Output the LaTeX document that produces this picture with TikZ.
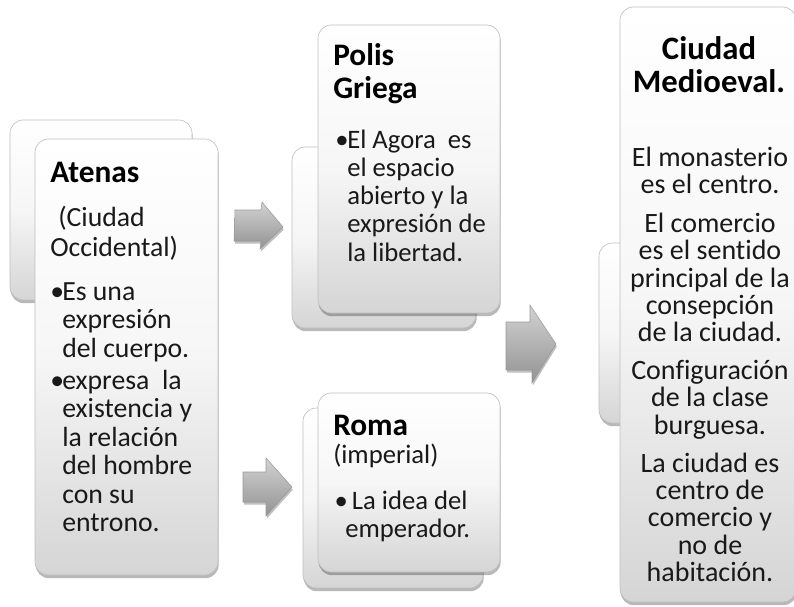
\documentclass[tikz,border=0pt]{standalone}
\usepackage{fontspec}
\setmainfont{Carlito}[Ligatures=NoCommon]
\usetikzlibrary{shadows,fit}
\newcommand\bodyf{\fontsize{20.8}{21.4}\selectfont}
\newcommand\smallbodyf{\fontsize{20}{21.2}\selectfont}
\newcommand\ciuf{\fontsize{21}{20.25}\selectfont}
\newcommand\titlef{\fontsize{23.5}{24.75}\selectfont\bfseries}
\newcommand\ctitlef{\fontsize{24.5}{24.75}\selectfont\bfseries}
\newcommand\bul{\llap{\makebox[9pt][l]{•}}}
\newcommand\lblock[1]{\begin{tabular}[t]{@{}l@{}}#1\end{tabular}}
\newcommand\cblock[1]{\begin{tabular}[t]{@{}c@{}}#1\end{tabular}}
\tikzset{
  cbox/.style={rounded corners=10pt, draw=gray!50, line width=0.5pt,
    top color=white, bottom color=gray!33, middle color=gray!7, inner sep=0pt,
    drop shadow={shadow xshift=0.5pt, shadow yshift=-2.4pt, opacity=0.28, fill=black}},
  arrowst/.style={top color=gray!35, bottom color=gray!85, draw=gray!80, line width=0.4pt,
    line join=miter,
    drop shadow={shadow xshift=0.6pt, shadow yshift=-2pt, opacity=0.25, fill=black}},
  bnode/.style={font=\bodyf, anchor=base west, inner sep=0pt, text=black!90},
  snode/.style={font=\smallbodyf, anchor=base west, inner sep=0pt, text=black!90},
  tnode/.style={font=\titlef, anchor=base west, inner sep=0pt, text=black},
  cnode/.style={font=\ciuf, anchor=base, inner sep=0pt, text=black!90},
  ctitle/.style={font=\ctitlef, anchor=base, inner sep=0pt, text=black}
}
\begin{document}
\begin{tikzpicture}[x=0.75pt,y=-0.75pt]
\useasboundingbox (0,0) rectangle (794,607);
% boxes
\node[cbox, fit={(10,120) (192,300)}] (atB) {};
\node[cbox, fit={(35,139) (218,575)}] (atF) {};
\node[cbox, fit={(292,147) (476,328)}] (poB) {};
\node[cbox, fit={(318,25) (500,313)}] (poF) {};
\node[cbox, fit={(303,408) (483,588)}] (roB) {};
\node[cbox, fit={(318,393) (500,572)}] (roF) {};
\node[cbox, fit={(599,243) (780,423)}] (ciB) {};
\node[cbox, fit={(620,7) (796,602)}] (ciF) {};
% arrows
\path[arrowst] (235,210) -- (261,210) -- (262,202) -- (283,227) -- (260,249) -- (261,241) -- (234,241) -- cycle;
\path[arrowst] (243,472) -- (266,472) -- (266,458) -- (292,487) -- (266,516) -- (266,502) -- (243,502) -- cycle;
\path[arrowst] (506,322) -- (530,322) -- (530,305) -- (556,344) -- (532,383) -- (532,370) -- (506,370) -- cycle;
% Atenas
\node[tnode] (atT) at (50,182) {Atenas};
\node[bnode] (atP1) at (50,226) {\lblock{\hspace*{6pt}(Ciudad\\[1pt]Occidental)}};
\node[bnode] (atP2) at (62,300) {\lblock{\bul Es una\\expresión\\del cuerpo.}};
\node[bnode] (atP3) at (62,389) {\lblock{\bul expresa\ \ la\\existencia y\\la relación\\del hombre\\con su\\entrono.}};
% Polis
\node[tnode] (poT) at (333,65) {\lblock{Polis\\Griega}};
\node[snode] (poP) at (347,148) {\lblock{\bul El Agora\ \ es\\el espacio\\abierto y la\\expresión de\\la libertad.}};
% Roma
\node[tnode] (roT) at (333,435) {Roma};
\node[snode] (roP1) at (333,463) {(imperial)};
\node[snode] (roP2) at (345,509) {\lblock{\llap{\makebox[8pt][l]{•}}\hspace*{5pt}La idea del\\emperador.}};
% Ciudad Medioeval
\node[ctitle] (ciT) at (709,59) {\cblock{Ciudad\\Medioeval.}};
\node[cnode] (ciP1) at (710,166) {\cblock{El monasterio\\es el centro.}};
\node[cnode] (ciP2) at (710,232) {\cblock{El comercio\\es el sentido\\principal de la\\consepción\\de la ciudad.}};
\node[cnode] (ciP3) at (710,379) {\cblock{Configuración\\de la clase\\burguesa.}};
\node[cnode] (ciP4) at (710,472) {\cblock{La ciudad es\\centro de\\comercio y\\no de\\habitación.}};
\end{tikzpicture}
\end{document}
